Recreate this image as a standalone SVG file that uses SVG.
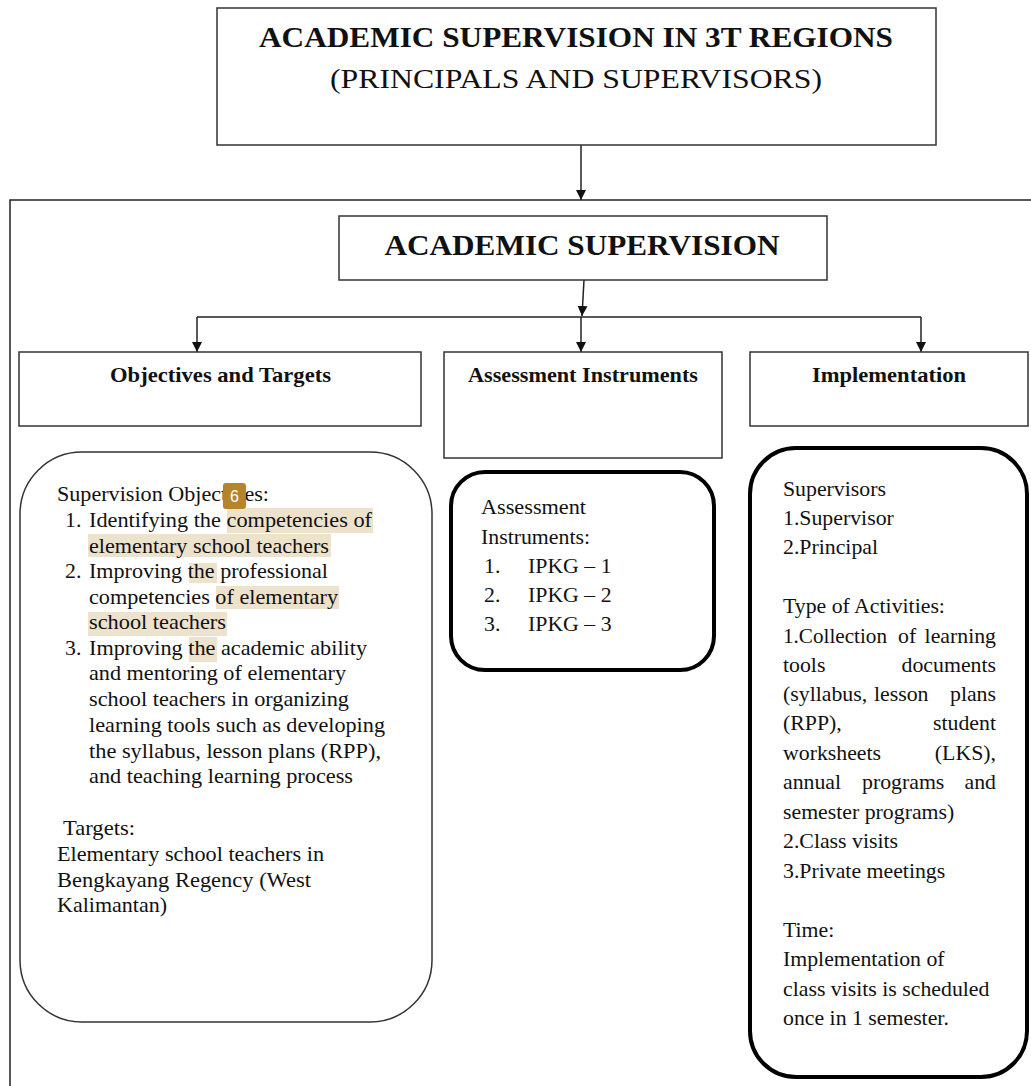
<svg xmlns="http://www.w3.org/2000/svg" width="1031" height="1086" viewBox="0 0 1031 1086">
<style>
  .box{fill:#fff;stroke:#333;stroke-width:1.5}
  .rbthin{fill:#fff;stroke:#333;stroke-width:1.5}
  .rbthick{fill:#fff;stroke:#000;stroke-width:4}
  .conn{fill:none;stroke:#222;stroke-width:1.5}
  text{font-family:"Liberation Serif","Times New Roman",serif;fill:#111}
  .h1{font-size:30px;font-weight:bold}
  .h2{font-size:28px}
  .h3{font-size:21px;font-weight:bold}
  .t{font-size:21.8px}
  .hl{fill:#ede2cc}
</style>
<defs>
  <marker id="arr" markerWidth="10" markerHeight="14" refX="10" refY="5" orient="auto" markerUnits="userSpaceOnUse">
    <path d="M0,0 L10,5 L0,10 z" fill="#111"/>
  </marker>
</defs>
<rect width="1031" height="1086" fill="#fff"/>

<g id="connectors">
  <line class="conn" x1="581" y1="145" x2="581" y2="200" marker-end="url(#arr)"/>
  <line class="conn" x1="584" y1="280" x2="582" y2="316" marker-end="url(#arr)"/>
  <polyline class="conn" points="197,317 921,317"/>
  <line class="conn" x1="197" y1="317" x2="197" y2="352" marker-end="url(#arr)"/>
  <line class="conn" x1="581" y1="317" x2="581" y2="352" marker-end="url(#arr)"/>
  <line class="conn" x1="921" y1="317" x2="921" y2="352" marker-end="url(#arr)"/>
</g>

<g id="frame">
  <polyline class="conn" points="10,1086 10,200 1031,200"/>
</g>

<g id="node-top">
  <rect class="box" x="217" y="8" width="719" height="137"/>
  <text class="h1" x="576" y="47" text-anchor="middle" textLength="634" lengthAdjust="spacingAndGlyphs">ACADEMIC SUPERVISION IN 3T REGIONS</text>
  <text class="h2" x="576" y="88" text-anchor="middle" textLength="492" lengthAdjust="spacingAndGlyphs">(PRINCIPALS AND SUPERVISORS)</text>
</g>

<g id="node-academic">
  <rect class="box" x="339" y="216" width="488" height="64"/>
  <text class="h1" x="582" y="255" text-anchor="middle" textLength="395" lengthAdjust="spacingAndGlyphs">ACADEMIC SUPERVISION</text>
</g>

<g id="node-objectives">
  <rect class="box" x="19" y="352" width="402" height="74"/>
  <text class="h3" x="220.5" y="382" text-anchor="middle" textLength="221" lengthAdjust="spacingAndGlyphs">Objectives and Targets</text>
</g>

<g id="node-assessment">
  <rect class="box" x="444" y="352" width="278" height="106"/>
  <text class="h3" x="583" y="382" text-anchor="middle" textLength="230" lengthAdjust="spacingAndGlyphs">Assessment Instruments</text>
</g>

<g id="node-implementation">
  <rect class="box" x="750" y="352" width="278" height="74"/>
  <text class="h3" x="889" y="382" text-anchor="middle" textLength="154" lengthAdjust="spacingAndGlyphs">Implementation</text>
</g>

<g id="node-objectives-detail">
  <rect class="rbthin" x="20" y="452" width="412" height="570" rx="62" ry="62"/>
  <rect class="hl" x="227" y="508" width="146" height="25"/>
  <rect class="hl" x="88" y="534" width="243" height="23"/>
  <rect class="hl" x="189" y="563" width="28" height="20"/>
  <rect class="hl" x="216" y="586" width="123" height="23"/>
  <rect class="hl" x="88" y="612" width="139" height="24"/>
  <rect class="hl" x="189" y="637" width="28" height="25"/>
  <text class="t" x="57" y="501" textLength="212" lengthAdjust="spacingAndGlyphs">Supervision Objectives:</text>
  <text class="t" x="65" y="527">1.</text>
  <text class="t" x="89" y="527" textLength="283" lengthAdjust="spacingAndGlyphs">Identifying the competencies of</text>
  <text class="t" x="89" y="553" textLength="240" lengthAdjust="spacingAndGlyphs">elementary school teachers</text>
  <text class="t" x="65" y="578">2.</text>
  <text class="t" x="89" y="578" textLength="239" lengthAdjust="spacingAndGlyphs">Improving the professional</text>
  <text class="t" x="89" y="604" textLength="249" lengthAdjust="spacingAndGlyphs">competencies of elementary</text>
  <text class="t" x="89" y="629" textLength="137" lengthAdjust="spacingAndGlyphs">school teachers</text>
  <text class="t" x="65" y="655">3.</text>
  <text class="t" x="89" y="655" textLength="278" lengthAdjust="spacingAndGlyphs">Improving the academic ability</text>
  <text class="t" x="89" y="680" textLength="257" lengthAdjust="spacingAndGlyphs">and mentoring of elementary</text>
  <text class="t" x="89" y="706" textLength="260" lengthAdjust="spacingAndGlyphs">school teachers in organizing</text>
  <text class="t" x="89" y="732" textLength="296" lengthAdjust="spacingAndGlyphs">learning tools such as developing</text>
  <text class="t" x="89" y="758" textLength="292" lengthAdjust="spacingAndGlyphs">the syllabus, lesson plans (RPP),</text>
  <text class="t" x="89" y="783" textLength="264" lengthAdjust="spacingAndGlyphs">and teaching learning process</text>
  <text class="t" x="63" y="835" textLength="72" lengthAdjust="spacingAndGlyphs">Targets:</text>
  <text class="t" x="57" y="861" textLength="267" lengthAdjust="spacingAndGlyphs">Elementary school teachers in</text>
  <text class="t" x="57" y="887" textLength="254" lengthAdjust="spacingAndGlyphs">Bengkayang Regency (West</text>
  <text class="t" x="57" y="912" textLength="110" lengthAdjust="spacingAndGlyphs">Kalimantan)</text>
  <rect x="223" y="483" width="23" height="26" rx="3" fill="#b5852e"/>
  <text x="234.5" y="502" text-anchor="middle" style="font-family:'Liberation Sans',Arial,sans-serif;font-size:16px;fill:#fff">6</text>
</g>

<g id="node-assessment-detail">
  <rect class="rbthick" x="451" y="472" width="263" height="198" rx="34" ry="34"/>
  <text class="t" x="481" y="514" textLength="105" lengthAdjust="spacingAndGlyphs">Assessment</text>
  <text class="t" x="481" y="544">Instruments:</text>
  <text class="t" x="484" y="573">1.</text>
  <text class="t" x="528" y="573">IPKG – 1</text>
  <text class="t" x="484" y="602">2.</text>
  <text class="t" x="528" y="602">IPKG – 2</text>
  <text class="t" x="484" y="631">3.</text>
  <text class="t" x="528" y="631">IPKG – 3</text>
</g>

<g id="node-implementation-detail">
  <rect class="rbthick" x="750" y="448" width="277" height="629" rx="46" ry="46"/>
  <text class="t" x="783" y="496">Supervisors</text>
  <text class="t" x="783" y="525">1.Supervisor</text>
  <text class="t" x="783" y="554">2.Principal</text>
  <text class="t" x="783" y="613">Type of Activities:</text>
  <text class="t" x="783" y="643" textLength="104" lengthAdjust="spacingAndGlyphs">1.Collection</text>
  <text class="t" x="898" y="643">of</text>
  <text class="t" x="996" y="643" text-anchor="end">learning</text>
  <text class="t" x="783" y="672">tools</text>
  <text class="t" x="996" y="672" text-anchor="end">documents</text>
  <text class="t" x="783" y="701">(syllabus,</text>
  <text class="t" x="874" y="701">lesson</text>
  <text class="t" x="996" y="701" text-anchor="end">plans</text>
  <text class="t" x="783" y="730">(RPP),</text>
  <text class="t" x="996" y="730" text-anchor="end">student</text>
  <text class="t" x="783" y="760">worksheets</text>
  <text class="t" x="996" y="760" text-anchor="end">(LKS),</text>
  <text class="t" x="783" y="789">annual</text>
  <text class="t" x="862" y="789">programs</text>
  <text class="t" x="996" y="789" text-anchor="end">and</text>
  <text class="t" x="783" y="819">semester programs)</text>
  <text class="t" x="783" y="848">2.Class visits</text>
  <text class="t" x="783" y="878">3.Private meetings</text>
  <text class="t" x="783" y="937">Time:</text>
  <text class="t" x="783" y="966">Implementation of</text>
  <text class="t" x="783" y="996">class visits is scheduled</text>
  <text class="t" x="783" y="1025">once in 1 semester.</text>
</g>
</svg>
